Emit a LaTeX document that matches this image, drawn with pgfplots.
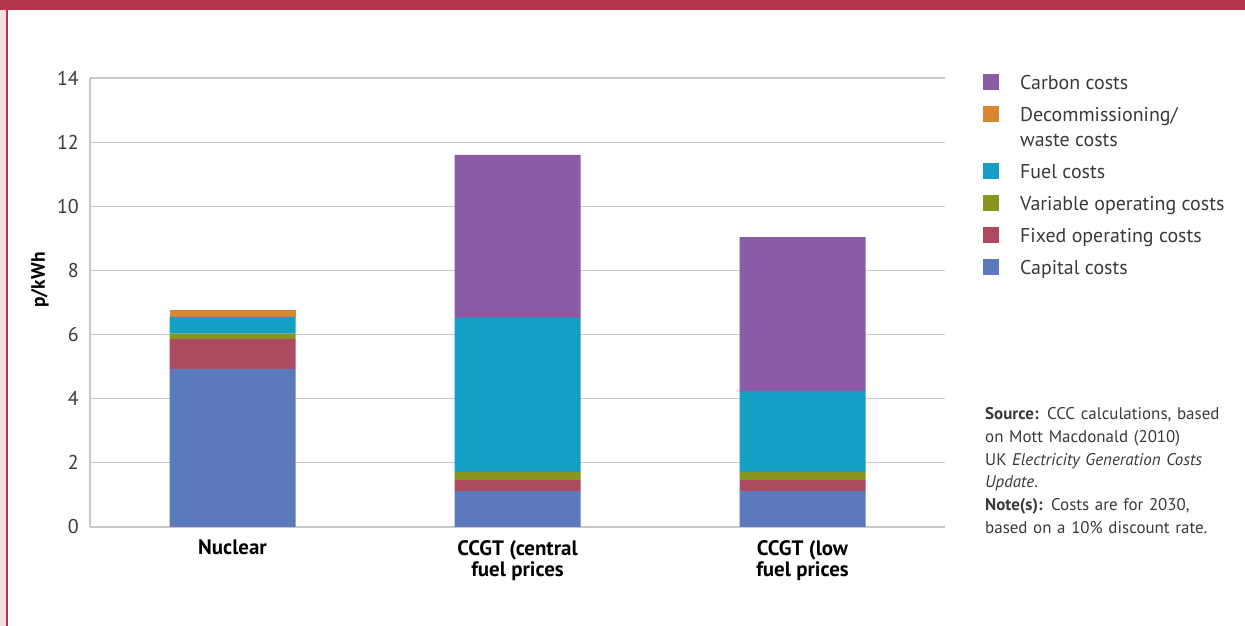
\documentclass[border=0pt]{standalone}
\usepackage{fontspec}
\setmainfont{PT Sans}
\usepackage{pgfplots}
\pgfplotsset{compat=1.18}
\definecolor{capc}{HTML}{5A7ABD}
\definecolor{fixc}{HTML}{AE4A5E}
\definecolor{varc}{HTML}{88951E}
\definecolor{fuelc}{HTML}{13A0C4}
\definecolor{decc}{HTML}{D8862F}
\definecolor{carc}{HTML}{8B5CA6}
\definecolor{gridc}{HTML}{C8C8C8}
\definecolor{framered}{HTML}{B3364A}
\definecolor{framepink}{HTML}{F4DEDF}
\definecolor{txtgray}{HTML}{3A3A3A}
\newcommand\lstrut{\rule[-5bp]{0pt}{20bp}}
\pgfplotsset{
  sq/.style={legend image code/.code={\path[fill=none,draw=none] (0bp,-5bp) rectangle (16bp,15bp);\fill[##1] (0bp,-1bp) rectangle (16bp,15bp);}},
  sqtwo/.style={legend image code/.code={\path[fill=none,draw=none] (0bp,-30bp) rectangle (16bp,15bp);\fill[##1] (0bp,-1bp) rectangle (16bp,15bp);}}}
\begin{document}
\begin{tikzpicture}
\useasboundingbox (0bp,0bp) rectangle (1245bp,626bp);
\fill[white] (0bp,0bp) rectangle (1245bp,626bp);
\fill[framepink] (0bp,0bp) rectangle (6bp,626bp);
\fill[framered] (5.5bp,0bp) rectangle (7.5bp,626bp);
\fill[framered] (0bp,615.5bp) rectangle (1245bp,626bp);
\begin{axis}[
  at={(90bp,99bp)}, anchor=south west,
  scale only axis, width=855bp, height=449bp,
  xmin=-0.5, xmax=2.5, ymin=0, ymax=14,
  ytick={0,2,...,14}, xtick={0,1,2},
  xticklabels={Nuclear,{CCGT (central\\fuel prices},{CCGT (low\\fuel prices}},
  ybar stacked, bar width=126bp,
  axis x line*=bottom, axis y line*=left,
  axis line style={gridc, line width=1.2bp, -},
  ymajorgrids, grid style={gridc, line width=1.2bp},
  major tick length=0pt,
  /pgf/number format/assume math mode=true,
  yticklabel style={font=\fontsize{20}{20}\selectfont, text=txtgray, anchor=east, inner sep=0pt, xshift=-11bp},
  xticklabel style={font=\bfseries\fontsize{21}{21.5}\selectfont, align=center, anchor=north, inner sep=0pt, yshift=-13bp},
  ylabel={p/kWh},
  every axis y label/.style={at={(axis description cs:-0.0585,0.55)}, rotate=90, anchor=center, font=\bfseries\fontsize{19.5}{20}\selectfont},
  reverse legend,
  legend style={draw=none, fill=none, inner sep=0pt, at={(1.0444,1.009)}, anchor=north west,
    row sep=12bp, column sep=21bp, font=\fontsize{20}{25}\selectfont,
    cells={anchor=base west}, nodes={inner sep=0pt, text=txtgray}},
]
\addplot[sq, fill=capc, draw=none] coordinates {(0,4.93) (1,1.12) (2,1.12)};
\addlegendentry{\lstrut Capital costs}
\addplot[sq, fill=fixc, draw=none] coordinates {(0,0.93) (1,0.35) (2,0.35)};
\addlegendentry{\lstrut Fixed operating costs}
\addplot[sq, fill=varc, draw=none] coordinates {(0,0.17) (1,0.25) (2,0.25)};
\addlegendentry{\lstrut Variable operating costs}
\addplot[sq, fill=fuelc, draw=none] coordinates {(0,0.52) (1,4.80) (2,2.52)};
\addlegendentry{\lstrut Fuel costs}
\addplot[sqtwo, fill=decc, draw=none] coordinates {(0,0.22) (1,0) (2,0)};
\addlegendentry{\parbox[t]{220bp}{\lstrut Decommissioning/\\\lstrut waste costs}}
\addplot[sq, fill=carc, draw=none] coordinates {(0,0) (1,5.08) (2,4.80)};
\addlegendentry{\lstrut Carbon costs}
\end{axis}
\node[anchor=base west, inner sep=0pt, text width=258bp, align=left, text=txtgray,
  font=\fontsize{17}{22.7}\selectfont] at (985bp,206bp)
  {\textbf{Source:} CCC calculations, based\\ on Mott Macdonald (2010)\\ UK \textit{Electricity Generation Costs}\\ \textit{Update}.\\
   \textbf{Note(s):} Costs are for 2030,\\ based on a 10\% discount rate.};
\end{tikzpicture}
\end{document}
